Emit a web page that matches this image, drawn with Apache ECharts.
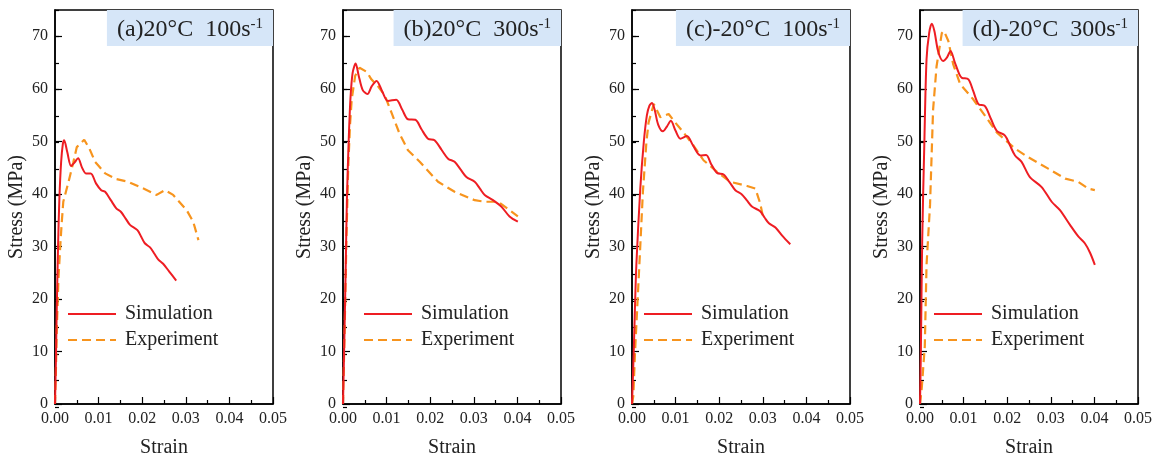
<!DOCTYPE html>
<html>
<head>
<meta charset="utf-8">
<script src="https://cdn.jsdelivr.net/npm/echarts@6/dist/echarts.min.js"></script>
<style>
  html, body { margin: 0; padding: 0; background: #fff; }
  #main { width: 1155px; height: 463px; }
</style>
</head>
<body>
<div id="main"></div>
<script>
// strain / stress pairs
var simA = [[0,0],[0.0002,8],[0.0004,18],[0.0007,30],[0.001,39],[0.0014,46],[0.0018,49.5],[0.0021,50.2],[0.0028,48],[0.0037,45.3],[0.0045,46],[0.0053,46.8],[0.0062,45],[0.0071,43.9],[0.0082,43.9],[0.0094,42],[0.0106,40.7],[0.0115,40.4],[0.0128,38.8],[0.0141,37.2],[0.0151,36.6],[0.0162,35.3],[0.0172,34.1],[0.0189,33.1],[0.0198,31.8],[0.0206,30.6],[0.0218,29.8],[0.0228,28.6],[0.0237,27.5],[0.0248,26.7],[0.0262,25.2],[0.0278,23.5]];
var expA = [[0,0],[0.0002,6],[0.0004,14],[0.0008,24],[0.0012,30],[0.0015,34],[0.0019,38.5],[0.0031,42.3],[0.0042,46],[0.005,48.9],[0.0067,50.3],[0.0079,48.6],[0.0092,46.1],[0.0115,43.9],[0.0141,42.8],[0.0168,42.3],[0.0203,41],[0.0233,39.8],[0.0252,40.7],[0.0271,39.8],[0.0302,36.9],[0.0317,34.7],[0.0329,31.2]];

var simB = [[0,0],[0.0003,12],[0.0006,25],[0.0009,39],[0.0013,50],[0.0017,58],[0.0022,63],[0.0029,64.8],[0.0036,62.5],[0.0045,59.8],[0.0056,59],[0.0066,60.5],[0.0077,61.5],[0.009,59.5],[0.0103,57.7],[0.0122,57.9],[0.0136,56],[0.0149,54.2],[0.0166,54.1],[0.018,52.3],[0.0195,50.5],[0.021,50.2],[0.0226,48.4],[0.0241,46.7],[0.0256,46.1],[0.027,44.6],[0.0283,43.2],[0.0302,42.3],[0.0314,41],[0.0325,39.8],[0.0344,38.8],[0.0363,37.6],[0.0382,35.7],[0.0401,34.7]];
var expB = [[0,0],[0.0004,15],[0.0008,32],[0.0012,45],[0.0016,53],[0.002,58],[0.0028,62.5],[0.0038,64],[0.0055,63.2],[0.0065,61.8],[0.008,60.5],[0.0096,58.7],[0.0111,55.5],[0.013,51.4],[0.0149,48.3],[0.0176,46.1],[0.0218,42.3],[0.0256,40.4],[0.0302,38.8],[0.0325,38.5],[0.0356,38.5],[0.0401,35.7]];

var simC = [[0,0],[0.0004,10],[0.0007,19],[0.001,26.5],[0.0019,41],[0.0027,49.8],[0.0034,54.9],[0.004,56.8],[0.0046,57.3],[0.0052,56],[0.006,53.2],[0.0071,51.9],[0.008,52.8],[0.0089,53.9],[0.01,52],[0.0111,50.5],[0.0126,51],[0.014,49.2],[0.0157,47.3],[0.017,47.4],[0.0182,45.6],[0.0195,44],[0.021,43.7],[0.0224,42.2],[0.0237,40.7],[0.0252,39.9],[0.0264,38.7],[0.0275,37.6],[0.0294,36.7],[0.0304,35.5],[0.0314,34.4],[0.0329,33.6],[0.0345,32],[0.0363,30.4]];
var expC = [[0,0],[0.0003,1.5],[0.0007,10],[0.0013,20],[0.0018,28.4],[0.0025,40.4],[0.0033,49.8],[0.0038,53.6],[0.005,57.1],[0.0065,54.6],[0.0084,55.2],[0.0099,53.6],[0.0118,51.7],[0.0141,49.2],[0.0164,46.4],[0.0195,44.2],[0.0225,42.3],[0.0264,41.5],[0.0283,41],[0.0294,38.2],[0.0302,35]];

var simD = [[0,0],[0.0002,10],[0.0005,30.9],[0.001,49.8],[0.0015,65.6],[0.0021,70.6],[0.0027,72.4],[0.0033,71],[0.0042,67],[0.0053,65.3],[0.0062,66],[0.007,67.2],[0.008,65],[0.009,62.8],[0.0096,62.1],[0.0111,61.8],[0.0122,59.6],[0.0134,57.1],[0.0149,56.7],[0.0162,54.4],[0.0176,52],[0.0195,51.1],[0.0206,49.3],[0.0218,47.3],[0.0233,46.1],[0.0252,43.2],[0.0279,41.3],[0.0302,38.5],[0.0321,36.9],[0.0344,34.1],[0.0363,31.9],[0.0378,30.6],[0.039,28.8],[0.0401,26.5]];
var expD = [[0,0],[0.0004,3],[0.0011,11],[0.0015,26.5],[0.0023,37.9],[0.003,56],[0.0038,64.3],[0.005,70.6],[0.0055,71],[0.0065,69.1],[0.0076,64.7],[0.0092,60.9],[0.0122,58],[0.0149,54.9],[0.0176,51.7],[0.0218,48.6],[0.0248,47],[0.0294,44.8],[0.0333,42.9],[0.0363,42.3],[0.0386,41],[0.0401,40.7]];

var panelLabels = ['(a)20°C  100s', '(b)20°C  300s', '(c)-20°C  100s', '(d)-20°C  300s'];
var simSets = [simA, simB, simC, simD];
var expSets = [expA, expB, expC, expD];

var font = 'Liberation Serif';
var gridLeft = [55, 343, 632, 920];
var legendLeft = [67, 363, 643, 933];
var gw = 218, gtop = 10, gh = 397;

var grid = [], xAxis = [], yAxis = [], series = [], title = [], legend = [];

for (var i = 0; i < 4; i++) {
    // main plot
    grid.push({ left: gridLeft[i], top: gtop, width: gw, height: gh, show: true, borderColor: '#000', borderWidth: 1.5, backgroundColor: 'transparent' });
    // overlay used only for the short 5 MPa ticks
    grid.push({ left: gridLeft[i], top: gtop, width: gw, height: gh, show: false });

    xAxis.push({
        gridIndex: 2 * i, type: 'value', min: 0, max: 0.05, interval: 0.01,
        name: 'Strain', nameLocation: 'middle', nameGap: 34,
        nameTextStyle: { fontFamily: font, fontSize: 20, color: '#222' },
        axisLine: { lineStyle: { color: '#000', width: 1.5 } },
        axisTick: { inside: true, length: 7, lineStyle: { color: '#000', width: 1.2 } },
        minorTick: { show: true, splitNumber: 2, length: 4, lineStyle: { color: '#000', width: 1.2 } },
        axisLabel: { fontFamily: font, fontSize: 16, color: '#222', margin: 7, formatter: function (v) { return v.toFixed(2); } },
        splitLine: { show: false }
    });
    xAxis.push({ gridIndex: 2 * i + 1, type: 'value', min: 0, max: 0.05, show: false });

    yAxis.push({
        gridIndex: 2 * i, type: 'value', min: 0, max: 75, interval: 10,
        name: 'Stress (MPa)', nameLocation: 'middle', nameGap: 28,
        nameTextStyle: { fontFamily: font, fontSize: 20, color: '#222' },
        axisLine: { lineStyle: { color: '#000', width: 1.5 } },
        axisTick: { inside: true, length: 7, lineStyle: { color: '#000', width: 1.2 } },
        axisLabel: { fontFamily: font, fontSize: 16, color: '#222', margin: 7, showMaxLabel: false },
        splitLine: { show: false }
    });
    yAxis.push({
        gridIndex: 2 * i + 1, type: 'value', min: 0, max: 75, interval: 5,
        axisLine: { show: false },
        axisTick: { inside: true, length: 4, lineStyle: { color: '#000', width: 1.2 } },
        axisLabel: { show: false },
        splitLine: { show: false }
    });

    series.push({
        name: 'Simulation', type: 'line', xAxisIndex: 2 * i, yAxisIndex: 2 * i,
        data: simSets[i], symbol: 'none', smooth: 0.3, z: 3,
        lineStyle: { color: '#ee1d23', width: 2 }, itemStyle: { color: '#ee1d23' }
    });
    series.push({
        name: 'Experiment', type: 'line', xAxisIndex: 2 * i, yAxisIndex: 2 * i,
        data: expSets[i], symbol: 'none', smooth: false, z: 2,
        lineStyle: { color: '#f7941d', width: 2.2, type: [9, 5] }, itemStyle: { color: '#f7941d' }
    });

    title.push({
        text: '{n|' + panelLabels[i] + '}{s|-1}',
        right: 1155 - (gridLeft[i] + gw),
        top: gtop,
        backgroundColor: '#d6e6f8',
        padding: [7, 10, 4, 10],
        textStyle: {
            rich: {
                n: { fontFamily: font, fontSize: 24, fontWeight: 'normal', color: '#222', lineHeight: 26 },
                s: { fontFamily: font, fontSize: 15, fontWeight: 'normal', color: '#222', verticalAlign: 'top', lineHeight: 16 }
            }
        }
    });

    legend.push({
        data: ['Simulation', 'Experiment'],
        orient: 'vertical', left: legendLeft[i], top: 304, padding: 0,
        itemWidth: 48, itemHeight: 14, itemGap: 6,
        itemStyle: { opacity: 0 },
        textStyle: { fontFamily: font, fontSize: 20, color: '#222', padding: [0, 0, 0, 4] },
        selectedMode: false
    });
}

var myChart = echarts.init(document.getElementById('main'));
myChart.setOption({
    backgroundColor: '#fff',
    animation: false,
    title: title,
    legend: legend,
    grid: grid,
    xAxis: xAxis,
    yAxis: yAxis,
    series: series
});
</script>
</body>
</html>
